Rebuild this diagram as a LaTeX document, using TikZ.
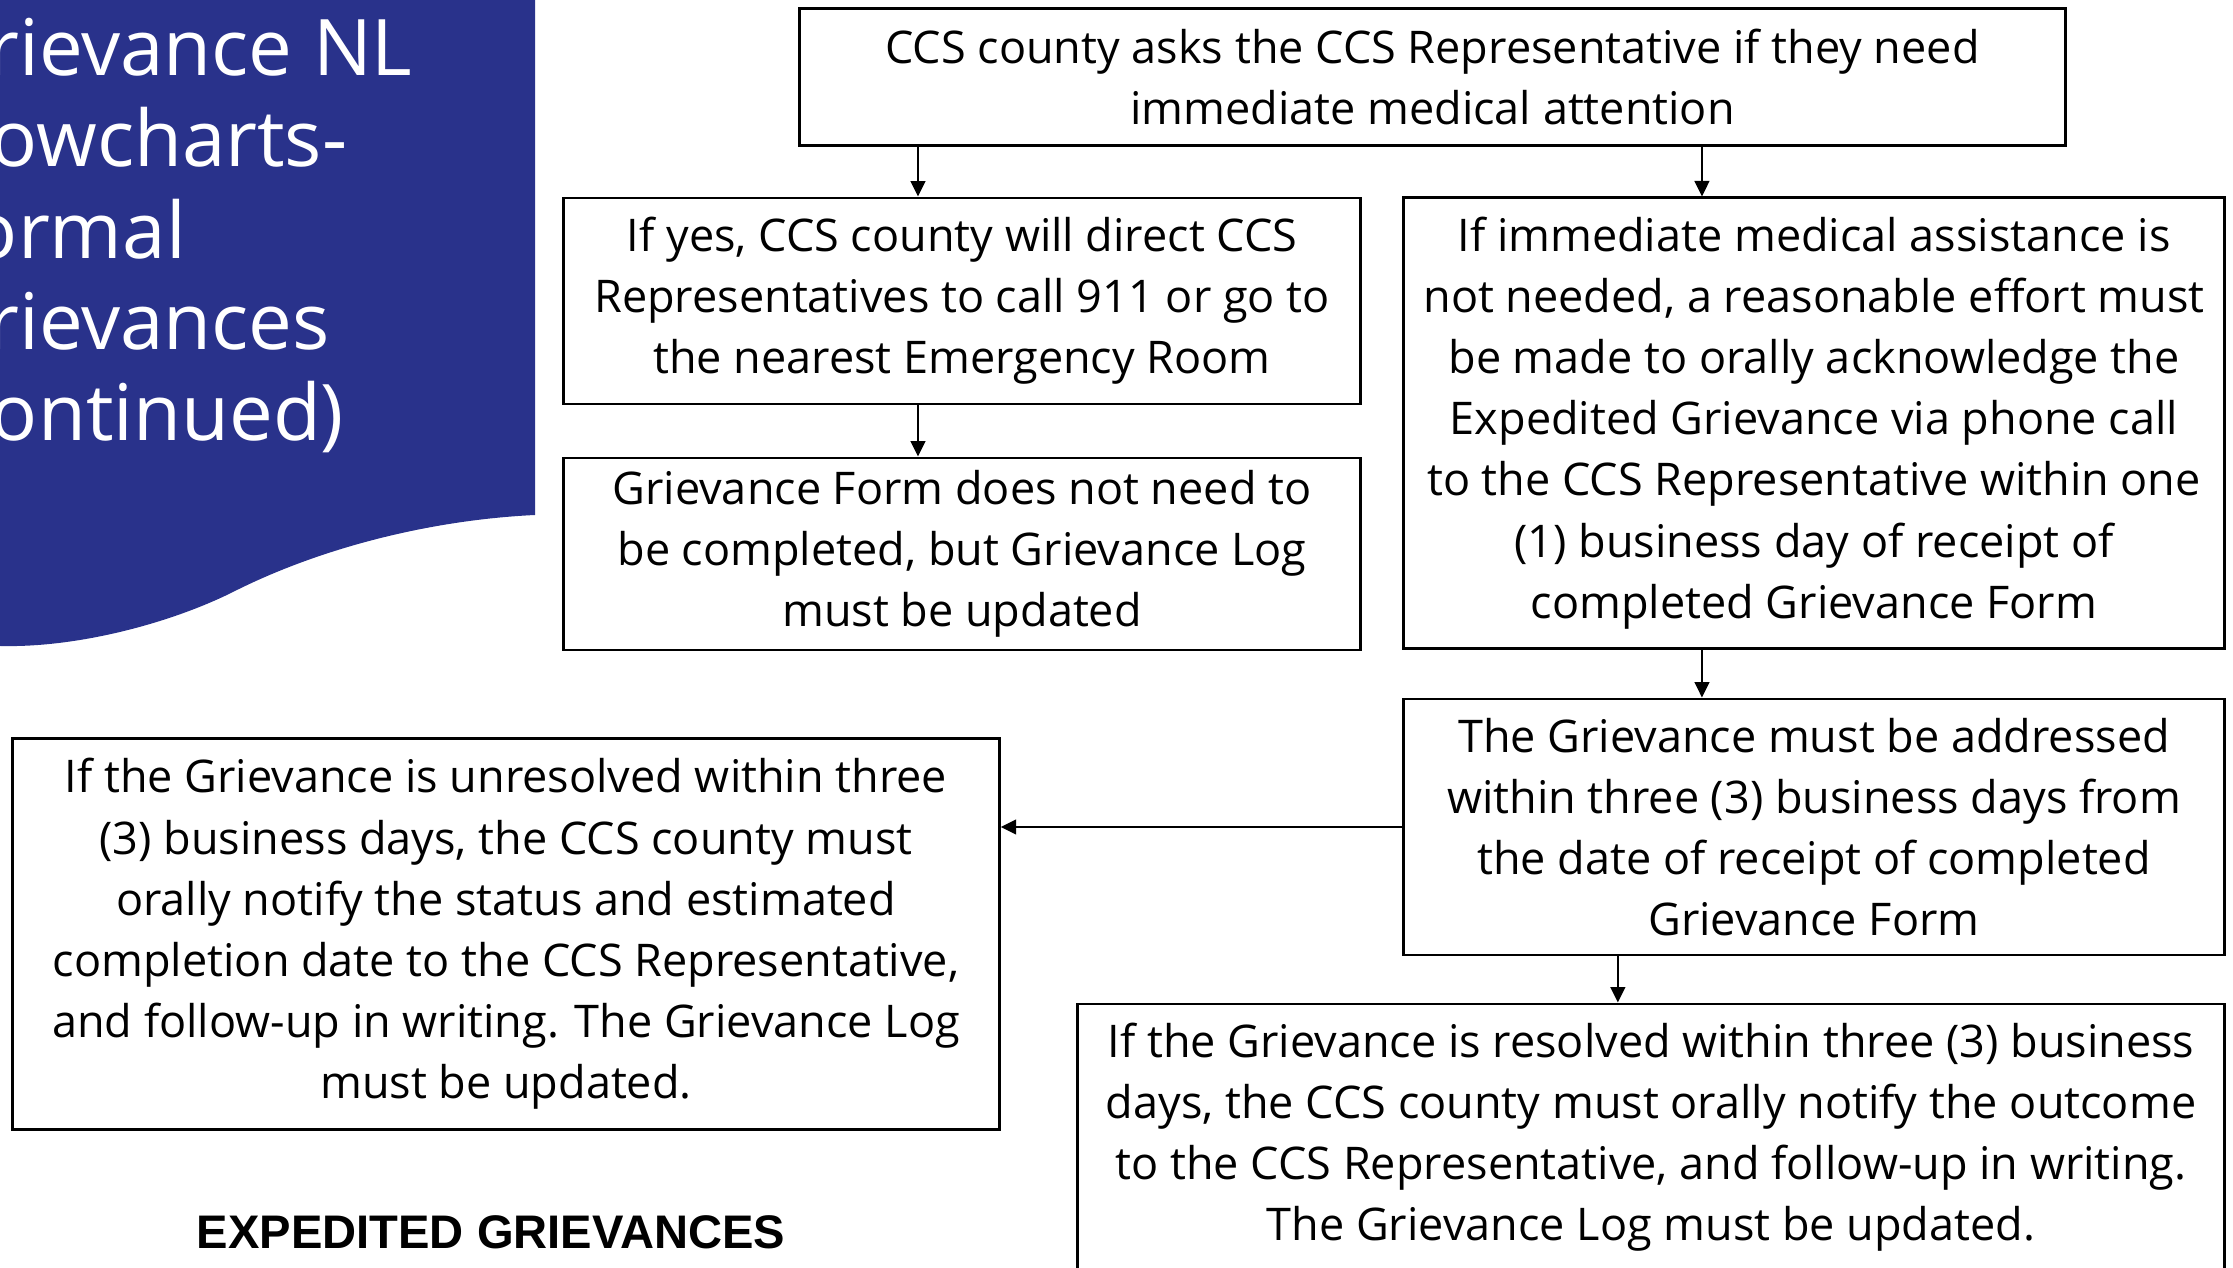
\documentclass[tikz,border=0pt]{standalone}
\usepackage{fontspec}
\setmainfont{Open Sans}
\newfontfamily\headfont{Liberation Sans}
\usepackage{tikz}
\usetikzlibrary{arrows.meta, positioning, calc}
\definecolor{bannerblue}{RGB}{41,50,139}
\tikzset{
    flowbox/.style={rectangle, draw=black, line width=0.8pt, fill=white,
                    align=center, inner sep=2pt,
                    font=\fontsize{12.8pt}{17.4pt}\selectfont},
    arrow/.style={-{Triangle[length=4.4pt, width=4.2pt]}, line width=0.6pt, draw=black},
    bannertxt/.style={text=white, align=left, inner sep=0pt,
                      font=\fontsize{22.2pt}{26pt}\selectfont},
}

\begin{document}
\begin{tikzpicture}[x=0.01cm, y=-0.01cm]
    \useasboundingbox (0,0) rectangle (2233,1268);
    % banner with wavy lower edge
    \fill[bannerblue] (-10,0) -- (535,0) -- (535,515)
        .. controls (430,520) and (320,548) .. (233,592)
        .. controls (173,622) and (80,648) .. (0,646) -- (-10,646) -- cycle;
    \node[bannertxt, anchor=base west] (banner) at (-70,441) {%
        Grievance NL\\Flowcharts-\\Formal\\Grievances\\(continued)};

    \node[flowbox, minimum width=12.65cm, minimum height=1.37cm] (ask) at (1432.5,77) {%
        CCS county asks the CCS Representative if they need\\
        immediate medical attention};
    \node[flowbox, minimum width=7.96cm, minimum height=2.06cm] (yesbox) at (962,301) {%
        If yes, CCS county will direct CCS\\
        Representatives to call 911 or go to\\
        the nearest Emergency Room};
    \node[flowbox, minimum width=7.96cm, minimum height=1.92cm] (formbox) at (962,554) {%
        Grievance Form does not need to\\
        be completed, but Grievance Log\\
        must be updated};
    \node[flowbox, minimum width=8.2cm, minimum height=4.5cm] (nobox) at (1814,423) {%
        If immediate medical assistance is\\
        not needed, a reasonable effort must\\
        be made to orally acknowledge the\\
        Expedited Grievance via phone call\\
        to the CCS Representative within one\\
        (1) business day of receipt of\\
        completed Grievance Form};
    \node[flowbox, minimum width=8.2cm, minimum height=2.56cm] (addrbox) at (1814,827) {%
        The Grievance must be addressed\\
        within three (3) business days from\\
        the date of receipt of completed\\
        Grievance Form};
    \node[flowbox, minimum width=9.86cm, minimum height=3.9cm] (unresbox) at (506,934) {%
        If the Grievance is unresolved within three\\
        (3) business days, the CCS county must\\
        orally notify the status and estimated\\
        completion date to the CCS Representative,\\
        and follow-up in writing. The Grievance Log\\
        must be updated.};
    \node[flowbox, minimum width=11.46cm, minimum height=2.66cm] (resbox) at (1651,1137) {%
        If the Grievance is resolved within three (3) business\\
        days, the CCS county must orally notify the outcome\\
        to the CCS Representative, and follow-up in writing.\\
        The Grievance Log must be updated.};

    \node[font=\headfont\bfseries\fontsize{13.4pt}{16pt}\selectfont, anchor=base] (heading) at (491,1249)
        {EXPEDITED GRIEVANCES};

    % connectors
    \draw[arrow] ([xshift=-4.4mm]yesbox.north |- ask.south) -- ([xshift=-4.4mm]yesbox.north);
    \draw[arrow] ([xshift=-11.2mm]nobox.north |- ask.south) -- ([xshift=-11.2mm]nobox.north);
    \draw[arrow] ([xshift=-4.4mm]yesbox.south) -- ([xshift=-4.4mm]formbox.north);
    \draw[arrow] ([xshift=-11.2mm]nobox.south) -- ([xshift=-11.2mm]addrbox.north);
    \draw[arrow] ([xshift=-19.6mm]addrbox.south) -- ([xshift=-19.6mm]addrbox.south |- resbox.north);
    \draw[arrow] (addrbox.west) -- (addrbox.west -| unresbox.east);
\end{tikzpicture}
\end{document}
